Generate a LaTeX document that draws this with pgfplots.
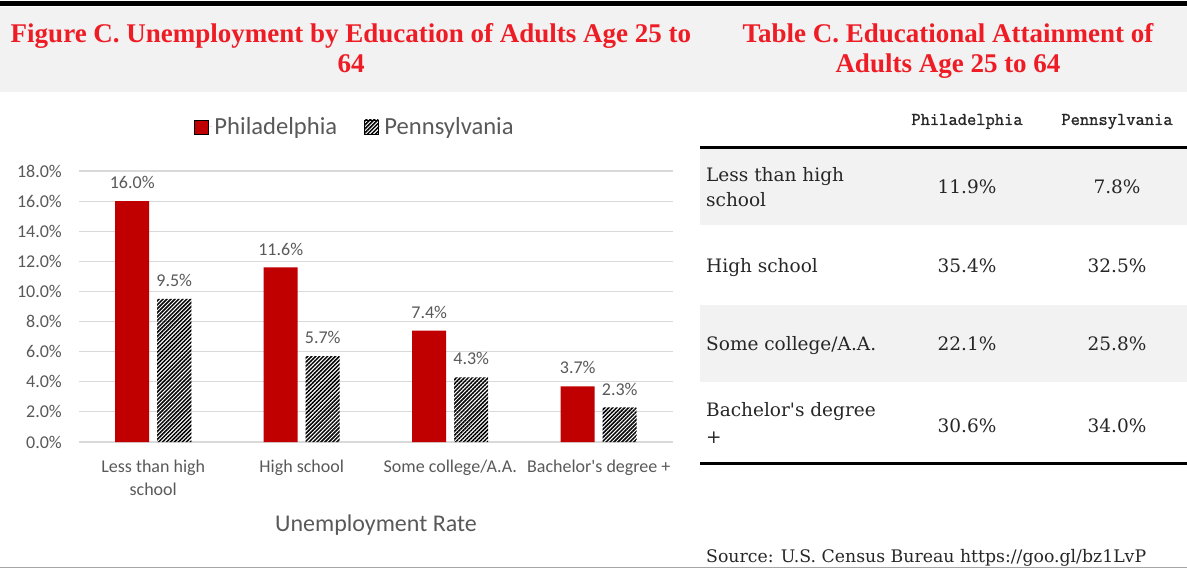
\documentclass[border=0pt]{standalone}
\usepackage{fontspec}
\usepackage{pgfplots}
\pgfplotsset{compat=1.18}
\usetikzlibrary{patterns.meta}
\newfontfamily\calib{Carlito}
\newfontfamily\serf{DejaVu Serif}
\newfontfamily\tserf{Liberation Serif}
\newfontfamily\monob[FakeBold=1.2]{Latin Modern Mono}
\definecolor{barred}{HTML}{C00000}
\definecolor{titlered}{HTML}{EE1C25}
\definecolor{band}{HTML}{F2F2F2}
\definecolor{gridc}{HTML}{D9D9D9}
\definecolor{tgray}{HTML}{595959}
\definecolor{ink}{HTML}{262626}
\begin{document}
\begin{tikzpicture}
\path[use as bounding box] (0,0) rectangle (1187pt,-569pt);
% header band
\fill[band] (0,-7pt) rectangle (1187pt,-92pt);
\fill[black] (0,-1.5pt) rectangle (1187pt,-6pt);
\tikzset{ttl/.style={anchor=base, inner sep=0pt, text=titlered, font=\tserf\bfseries\fontsize{27}{30}\selectfont}}
\node[ttl] at (351pt,-43pt) {Figure C. Unemployment by Education of Adults Age 25 to};
\node[ttl] at (351pt,-73pt) {64};
\node[ttl] at (948pt,-43pt) {Table C. Educational Attainment of};
\node[ttl] at (948pt,-73pt) {Adults Age 25 to 64};
% table
\fill[band] (700pt,-149.5pt) rectangle (1187pt,-225pt);
\fill[band] (700pt,-305pt) rectangle (1187pt,-382pt);
\fill[black] (700pt,-146pt) rectangle (1187pt,-149.5pt);
\fill[black] (700pt,-461.5pt) rectangle (1187pt,-465pt);
\tikzset{hd/.style={anchor=base, inner sep=0pt, text=ink, font=\monob\fontsize{18}{20}\selectfont},
         rl/.style={anchor=base west, inner sep=0pt, text=ink, font=\serf\fontsize{18.5}{23}\selectfont},
         vl/.style={anchor=base, inner sep=0pt, text=ink, font=\serf\fontsize{18.5}{23}\selectfont}}
\node[hd] at (967pt,-125pt) {Philadelphia};
\node[hd] at (1117pt,-125pt) {Pennsylvania};
\node[rl] at (706pt,-182pt) {Less than high};
\node[rl] at (706pt,-207pt) {school};
\node[vl] at (967pt,-194pt) {11.9\%};
\node[vl] at (1117pt,-194pt) {7.8\%};
\node[rl] at (706pt,-273pt) {High school};
\node[vl] at (967pt,-273pt) {35.4\%};
\node[vl] at (1117pt,-273pt) {32.5\%};
\node[rl] at (706pt,-351pt) {Some college/A.A.};
\node[vl] at (967pt,-351pt) {22.1\%};
\node[vl] at (1117pt,-351pt) {25.8\%};
\node[rl] at (706pt,-417pt) {Bachelor's degree};
\node[rl] at (706pt,-443pt) {+};
\node[vl] at (967pt,-433pt) {30.6\%};
\node[vl] at (1117pt,-433pt) {34.0\%};
\node[anchor=base west, inner sep=0pt, text=ink, font=\serf\fontsize{17.3}{20}\selectfont] at (706pt,-562pt) {Source: U.S. Census Bureau https://goo.gl/bz1LvP};
\draw[gray!70, line width=1.5pt] (0,-567.5pt) -- (1187pt,-567.5pt);
% chart
\begin{axis}[
  at={(79pt,-442pt)}, anchor=south west,
  scale only axis, width=594pt, height=271pt,
  xmin=-0.5, xmax=3.5, ymin=0, ymax=18,
  ybar=8pt, bar width=34pt,
  axis line style={draw=none},
  major tick length=0pt,
  ytick={0,2,...,18},
  ymajorgrids, grid style={gridc, line width=1.2pt},
  xtick={0,1,2,3},
  xticklabels={{Less than high\\school},{High school},{Some college/A.A.},{Bachelor's degree +}},
  xticklabel style={font=\calib\fontsize{18}{22.5}\selectfont, text=tgray, align=center, inner sep=0pt, yshift=-18pt, anchor=north},
  yticklabel={\pgfmathprintnumber[fixed,fixed zerofill,precision=1,assume math mode=true]{\tick}\%},
  yticklabel style={font=\calib\fontsize{18}{22}\selectfont, text=tgray, inner sep=0pt, xshift=-17pt, anchor=east},
  xlabel={Unemployment Rate},
  xlabel style={at={(axis description cs:0.5,-0.33)}, anchor=base, font=\calib\fontsize{24}{28}\selectfont, text=tgray},
  nodes near coords={\pgfmathprintnumber[fixed,fixed zerofill,precision=1,assume math mode=true]{\pgfplotspointmeta}\%},
  nodes near coords style={font=\calib\fontsize{18}{22}\selectfont, text=tgray, inner sep=0pt, anchor=south, yshift=12pt},
  legend image code/.code={\draw[#1] (0pt,-7pt) rectangle (14pt,7pt); \path (0pt,0pt) -- (18pt,0pt);},
  legend columns=2,
  legend style={at={(axis description cs:0.4646,1.1624)}, anchor=center, draw=none, fill=none,
    font=\calib\fontsize{24.6}{28}\selectfont, text=tgray,
    /tikz/every even column/.append style={column sep=25pt}},
]
\addplot[fill=barred, draw=none] coordinates {(0,16.0) (1,11.6) (2,7.4) (3,3.7)};
\addplot[pattern={Lines[angle=45,distance=2.8pt,line width=1.5pt]}, draw=none] coordinates {(0,9.5) (1,5.7) (2,4.3) (3,2.3)};
\legend{Philadelphia, Pennsylvania}
\end{axis}
\end{tikzpicture}
\end{document}
